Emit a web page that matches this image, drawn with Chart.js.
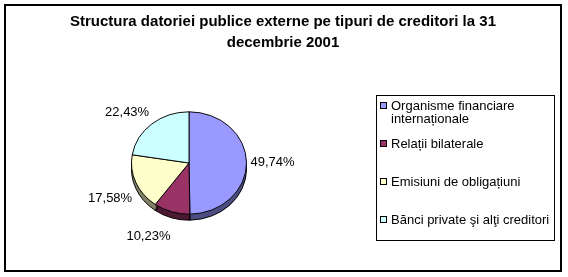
<!DOCTYPE html>
<html>
<head>
<meta charset="utf-8">
<script src="https://cdn.jsdelivr.net/npm/chart.js@4.4.0/dist/chart.umd.min.js"></script>
<style>
  html, body { margin: 0; background: #fff; }
  canvas { display: block; }
</style>
</head>
<body>
<canvas id="c" width="568" height="277"></canvas>
<script>
const titleLines = ["Structura datoriei publice externe pe tipuri de creditori la 31", "decembrie 2001"];
const creditors = ["Organisme financiare internaționale", "Relații bilaterale", "Emisiuni de obligațiuni", "Bănci private şi alţi creditori"];
const legendLines = [["Organisme financiare", "internaționale"], ["Relații bilaterale"], ["Emisiuni de obligațiuni"], ["Bănci private şi alţi creditori"]];
const shares = [49.74, 10.23, 17.58, 22.43];
const faceColors = ["#9999ff", "#993366", "#ffffcc", "#ccffff"];
const sideColors = ["#4d4d80", "#4d1a33", "#808066", "#668080"];

const FONT = '13px "Liberation Sans", Arial, sans-serif';
const SQ = 0.89;   // vertical squash of the tilted pie
const DEPTH = 6;   // thickness of the pie side

const $ = (id) => document.getElementById(id);

function arcPath(ctx, a, dy) {
  ctx.beginPath();
  ctx.moveTo(a.x, a.y + dy);
  ctx.arc(a.x, a.y + dy, a.outerRadius, a.startAngle, a.endAngle);
  ctx.closePath();
}

const pie3d = {
  id: "pie3d",
  beforeDatasetsDraw(chart) {
    const ctx = chart.ctx;
    const arcs = chart.getDatasetMeta(0).data;
    const cx = arcs[0].x, cy = arcs[0].y;
    ctx.save();
    ctx.translate(cx, cy);
    ctx.scale(1, SQ);
    ctx.translate(-cx, -cy);
    for (let d = DEPTH; d >= 1; d--) {
      arcs.forEach((a, i) => {
        arcPath(ctx, a, d / SQ);
        ctx.fillStyle = sideColors[i];
        ctx.fill();
      });
    }
    ctx.lineWidth = 1;
    ctx.strokeStyle = "#000";
    arcs.forEach((a) => {
      arcPath(ctx, a, DEPTH / SQ);
      ctx.stroke();
    });
  },
  afterDatasetsDraw(chart) {
    chart.ctx.restore();
  }
};

const decor = {
  id: "decor",
  afterDraw(chart) {
    const ctx = chart.ctx;
    ctx.save();
    // frame
    ctx.strokeStyle = "#000";
    ctx.lineWidth = 2;
    ctx.strokeRect(5, 5, 556, 266);

    // title
    ctx.fillStyle = "#000";
    ctx.font = 'bold 15px "Liberation Sans", Arial, sans-serif';
    ctx.textAlign = "center";
    ctx.textBaseline = "middle";
    titleLines.forEach((t, i) => ctx.fillText(t, 283, 22 + i * 21));

    // value labels
    ctx.font = FONT;
    const arcs = chart.getDatasetMeta(0).data;
    const clamp = (v) => Math.max(-1, Math.min(1, v));
    arcs.forEach((a, i) => {
      const mid = (a.startAngle + a.endAngle) / 2;
      const dx = Math.cos(mid), dy = Math.sin(mid);
      const txt = shares[i].toFixed(2).replace(".", ",") + "%";
      const hw = ctx.measureText(txt).width / 2, hh = 6;
      const px = a.x + dx * (a.outerRadius + 4);
      const py = a.y + dy * (a.outerRadius * SQ + 7) + (dy > 0 ? DEPTH + dy * dy * 6 : 0);
      ctx.textAlign = "center";
      ctx.fillText(txt, px + hw * clamp(dx * 3.5), py + hh * clamp(dy * 3.5));
    });

    // legend
    ctx.lineWidth = 1;
    ctx.strokeRect(376.5, 95.5, 178, 145);
    ctx.textAlign = "left";
    legendLines.forEach((lines, i) => {
      const y0 = 106 + i * 38;
      ctx.fillStyle = faceColors[i];
      ctx.fillRect(380.5, y0 - 3.5, 6, 6);
      ctx.strokeRect(380.5, y0 - 3.5, 6, 6);
      ctx.fillStyle = "#000";
      lines.forEach((t, j) => ctx.fillText(t, 391, y0 + j * 13));
    });
    ctx.restore();
  }
};

new Chart($("c"), {
  type: "pie",
  data: {
    labels: creditors,
    datasets: [{
      data: shares,
      backgroundColor: faceColors,
      borderColor: "#000",
      borderWidth: 1
    }]
  },
  options: {
    responsive: false,
    animation: false,
    layout: { padding: { left: 131, right: 321, top: 105, bottom: 56 } },
    plugins: {
      legend: { display: false },
      tooltip: { enabled: false },
      title: { display: false }
    }
  },
  plugins: [pie3d, decor]
});
</script>
</body>
</html>
